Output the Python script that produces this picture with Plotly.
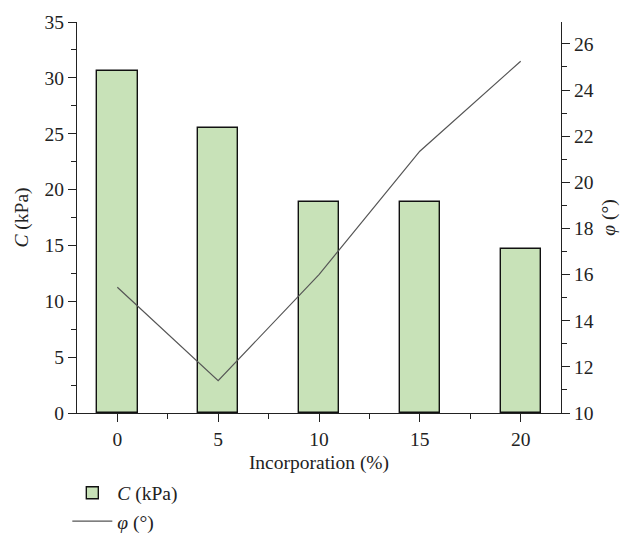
import plotly.graph_objects as go

# Incorporation levels (%) and measured shear parameters
incorporation = [0, 5, 10, 15, 20]
cohesion_kpa = [30.6, 25.5, 18.9, 18.85, 14.65]
friction_deg = [15.45, 11.4, 16.0, 21.35, 25.25]

FONT = "Liberation Serif"
AX_COLOR = "#222222"
FS = 19.5

fig = go.Figure()

fig.add_trace(go.Bar(
    x=incorporation,
    y=cohesion_kpa,
    width=2,
    name="<i>C</i> (kPa)",
    marker=dict(color="#c8e2b8", line=dict(color="#111111", width=1.4)),
    yaxis="y",
))

fig.add_trace(go.Scatter(
    x=incorporation,
    y=friction_deg,
    mode="lines",
    name="<i>φ</i> (°)",
    line=dict(color="#555555", width=1.2),
    yaxis="y2",
))

axis_common = dict(
    showgrid=False,
    zeroline=False,
    showline=True,
    linecolor=AX_COLOR,
    linewidth=1.3,
    ticks="outside",
    ticklen=8,
    tickwidth=1.2,
    tickcolor=AX_COLOR,
    tickfont=dict(family=FONT, size=FS, color="#222222"),
)

fig.update_layout(
    width=627,
    height=556,
    margin=dict(l=77, r=62, t=21, b=143),
    plot_bgcolor="white",
    paper_bgcolor="white",
    font=dict(family=FONT, size=FS, color="#222222"),
    showlegend=True,
    bargap=0,
    xaxis=dict(
        range=[-2, 22],
        tick0=0,
        dtick=5,
        title=dict(text="Incorporation (%)", font=dict(family=FONT, size=FS), standoff=6),
        minor=dict(ticks="outside", ticklen=5, dtick=2.5, tick0=0, tickcolor=AX_COLOR, tickwidth=1.2),
        **axis_common,
    ),
    yaxis=dict(
        range=[0, 35],
        tick0=0,
        dtick=5,
        title=dict(text="<i>C</i> (kPa)", font=dict(family=FONT, size=FS), standoff=10),
        minor=dict(ticks="outside", ticklen=5, dtick=2.5, tick0=0, tickcolor=AX_COLOR, tickwidth=1.2),
        **axis_common,
    ),
    yaxis2=dict(
        overlaying="y",
        side="right",
        range=[10, 26.95],
        tick0=10,
        dtick=2,
        title=dict(text="<i>φ</i> (°)", font=dict(family=FONT, size=FS), standoff=8),
        minor=dict(ticks="outside", ticklen=5, dtick=1, tick0=10, tickcolor=AX_COLOR, tickwidth=1.2),
        **axis_common,
    ),
    legend=dict(
        x=-0.02,
        y=-0.155,
        xanchor="left",
        yanchor="top",
        bgcolor="rgba(0,0,0,0)",
        font=dict(family=FONT, size=FS),
        tracegroupgap=0,
        itemwidth=40,
    ),
)

fig.write_html("out.html")
